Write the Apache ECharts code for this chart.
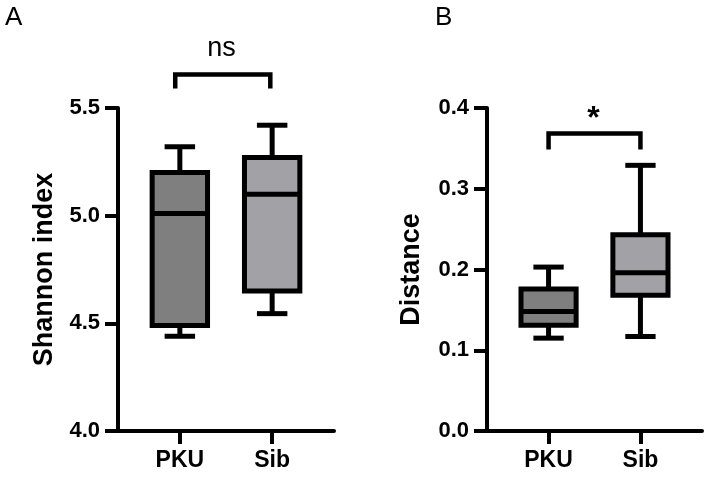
<!DOCTYPE html>
<html lang="en">
  <head>
    <meta charset="UTF-8" />
    <title>Shannon index / Distance</title>
    <style>
      html,
      body {
        margin: 0;
        padding: 0;
        background: #fff;
      }
      #main {
        width: 709px;
        height: 477px;
      }
    </style>
  </head>
  <body>
    <div id="main"></div>
    <script src="https://cdn.jsdelivr.net/npm/echarts@6.0.0/dist/echarts.min.js"></script>
    <script>
      // groups, placed at x = 1 and x = 2
      const categories = ["PKU", "Sib"];
      // box stats: [min, Q1, median, Q3, max]
      const shannonPKU = [4.44, 4.49, 5.01, 5.2, 5.32];
      const shannonSib = [4.545, 4.65, 5.1, 5.27, 5.42];
      const distancePKU = [0.115, 0.131, 0.148, 0.176, 0.203];
      const distanceSib = [0.117, 0.168, 0.196, 0.243, 0.329];
      // y axis ranges: [min, max, step]
      const shannonAxis = [4.0, 5.5, 0.5];
      const distanceAxis = [0, 0.4, 0.1];
      // significance brackets: [x from, x to, leg end, bar]
      const bracketA = [0.95, 1.98, 5.59, 5.656];
      const bracketB = [1.0, 2.0, 0.3485, 0.3684];
      // significance text: [x, y, text]
      const markA = [1.45, 5.774, "ns"];
      const markB = [1.49, 0.386, "*"];

      const font = "'Liberation Sans', Arial, sans-serif";
      const boxColors = ["#7f7f7f", "#a2a2a6"];

      const chart = echarts.init(document.getElementById("main"));

      // box + whiskers with half-width caps (Prism style)
      function renderBox(params, api) {
        const x = api.value(0);
        const pMin = api.coord([x, api.value(1)]);
        const pQ1 = api.coord([x, api.value(2)]);
        const pMed = api.coord([x, api.value(3)]);
        const pQ3 = api.coord([x, api.value(4)]);
        const pMax = api.coord([x, api.value(5)]);
        const unit = api.size([1, 0])[0];
        const bw = unit * 0.6;
        const cw = unit * 0.33;
        const cx = pMed[0];
        const st = { stroke: "#000", lineWidth: 5 };
        return {
          type: "group",
          children: [
            { type: "line", shape: { x1: cx, y1: pQ3[1], x2: cx, y2: pMax[1] }, style: st },
            { type: "line", shape: { x1: cx, y1: pQ1[1], x2: cx, y2: pMin[1] }, style: st },
            { type: "line", shape: { x1: cx - cw / 2, y1: pMax[1], x2: cx + cw / 2, y2: pMax[1] }, style: st },
            { type: "line", shape: { x1: cx - cw / 2, y1: pMin[1], x2: cx + cw / 2, y2: pMin[1] }, style: st },
            {
              type: "rect",
              shape: { x: cx - bw / 2, y: pQ3[1], width: bw, height: pQ1[1] - pQ3[1] },
              style: { fill: boxColors[params.dataIndex], stroke: "#000", lineWidth: 5 },
            },
            { type: "line", shape: { x1: cx - bw / 2, y1: pMed[1], x2: cx + bw / 2, y2: pMed[1] }, style: st },
          ],
        };
      }

      function renderMark(params, api) {
        const p = api.coord([api.value(0), api.value(1)]);
        const isStar = params.seriesName === "markB";
        return {
          type: "text",
          x: p[0],
          y: p[1],
          style: {
            text: isStar ? markB[2] : markA[2],
            align: "center",
            verticalAlign: "middle",
            fontSize: isStar ? 32 : 27,
            fontWeight: isStar ? "bold" : "normal",
            fontFamily: font,
            fill: "#000",
          },
        };
      }

      const axisLineStyle = { color: "#000", width: 4 };

      function xAxisFor(i) {
        return {
          type: "value",
          gridIndex: i,
          min: 0.33,
          max: 2.67,
          axisLine: { show: true, onZero: false, lineStyle: axisLineStyle },
          axisTick: { show: true, customValues: [1, 2], length: 13, lineStyle: axisLineStyle },
          axisLabel: {
            customValues: [1, 2],
            formatter: (v) => categories[Math.round(v) - 1],
            margin: 18,
            fontSize: 23,
            fontWeight: "bold",
            color: "#000",
            fontFamily: font,
          },
          splitLine: { show: false },
        };
      }

      function yAxisFor(i, range, name, gap) {
        return {
          type: "value",
          gridIndex: i,
          min: range[0],
          max: range[1],
          interval: range[2],
          name: name,
          nameLocation: "middle",
          nameGap: gap,
          nameTextStyle: { fontSize: 27, fontWeight: "bold", color: "#000", fontFamily: font },
          axisLine: { show: true, onZero: false, lineStyle: axisLineStyle },
          axisTick: { show: true, length: 13, lineStyle: axisLineStyle },
          axisLabel: {
            formatter: (v) => v.toFixed(1),
            margin: 18,
            fontSize: 22,
            fontWeight: "bold",
            color: "#000",
            fontFamily: font,
          },
          splitLine: { show: false },
        };
      }

      function bracketSeries(i, b) {
        return {
          type: "line",
          xAxisIndex: i,
          yAxisIndex: i,
          clip: false,
          symbol: "none",
          silent: true,
          lineStyle: { color: "#000", width: 4.5, join: "miter" },
          data: [
            [b[0], b[2]],
            [b[0], b[3]],
            [b[1], b[3]],
            [b[1], b[2]],
          ],
        };
      }

      const option = {
        animation: false,
        title: [
          { text: "A", left: 5, top: 5, padding: 0, textStyle: { fontSize: 26, fontWeight: "normal", color: "#000", fontFamily: font } },
          { text: "B", left: 435, top: 5, padding: 0, textStyle: { fontSize: 26, fontWeight: "normal", color: "#000", fontFamily: font } },
        ],
        grid: [
          { left: 118, right: 375, top: 108, bottom: 46 },
          { left: 487, right: 7, top: 108, bottom: 46 },
        ],
        xAxis: [xAxisFor(0), xAxisFor(1)],
        yAxis: [
          yAxisFor(0, shannonAxis, "Shannon index", 60),
          yAxisFor(1, distanceAxis, "Distance", 62),
        ],
        series: [
          {
            type: "custom",
            xAxisIndex: 0,
            yAxisIndex: 0,
            renderItem: renderBox,
            encode: { x: 0, y: [1, 2, 3, 4, 5] },
            data: [
              [1].concat(shannonPKU),
              [2].concat(shannonSib),
            ],
          },
          {
            type: "custom",
            xAxisIndex: 1,
            yAxisIndex: 1,
            renderItem: renderBox,
            encode: { x: 0, y: [1, 2, 3, 4, 5] },
            data: [
              [1].concat(distancePKU),
              [2].concat(distanceSib),
            ],
          },
          bracketSeries(0, bracketA),
          bracketSeries(1, bracketB),
          {
            type: "custom",
            name: "markA",
            xAxisIndex: 0,
            yAxisIndex: 0,
            renderItem: renderMark,
            data: [[markA[0], markA[1]]],
          },
          {
            type: "custom",
            name: "markB",
            xAxisIndex: 1,
            yAxisIndex: 1,
            renderItem: renderMark,
            data: [[markB[0], markB[1]]],
          },
        ],
      };
      chart.setOption(option);
    </script>
  </body>
</html>
